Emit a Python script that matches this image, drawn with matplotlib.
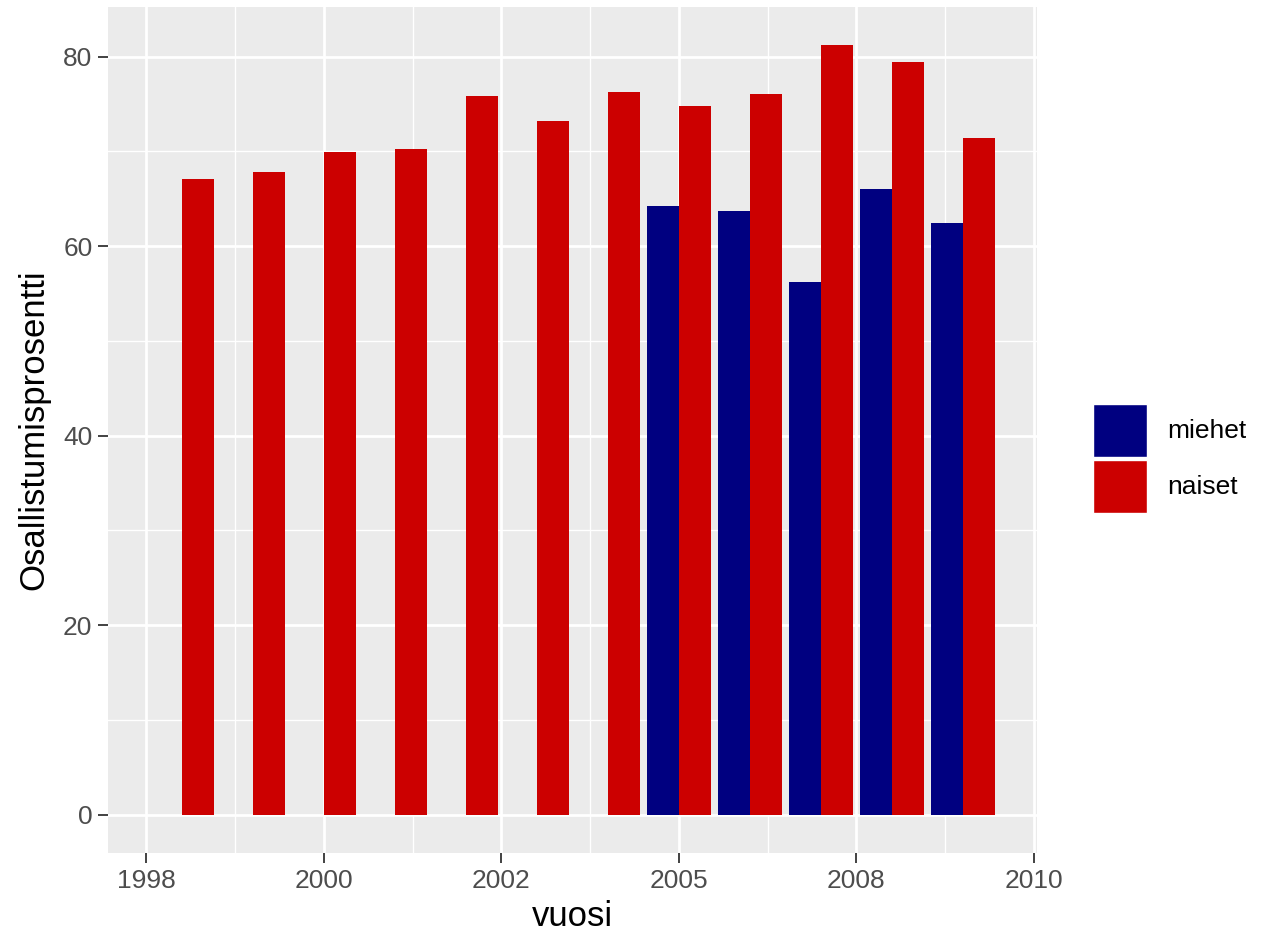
import numpy as np
import matplotlib
matplotlib.use("Agg")
import matplotlib.pyplot as plt
from matplotlib.patches import Patch

# osallistumisprosentit vuosittain (12 vuotta, miehet vain viideltä viimeiseltä)
naiset = [67.1, 67.8, 69.9, 70.2, 75.8, 73.2, 76.3, 74.8, 76.0, 81.2, 79.4, 71.4]
miehet = [None, None, None, None, None, None, None, 64.2, 63.7, 56.2, 66.0, 62.4]
tick_paikat = [-0.5, 2, 4.5, 7, 9.5, 12]
tick_tekstit = ["1998", "2000", "2002", "2005", "2008", "2010"]

sininen = "#000080"
punainen = "#CC0000"
tausta = "#EBEBEB"

plt.rcParams["font.family"] = ["Liberation Sans", "DejaVu Sans"]

fig = plt.figure(figsize=(12.66, 9.43), dpi=100)
ax = fig.add_axes([107.7 / 1266, 1 - 853.3 / 943, (1037 - 107.7) / 1266, (853.3 - 6.7) / 943])
ax.set_facecolor(tausta)

x = np.arange(len(naiset))
w = 0.45
mx = [xi for xi, v in zip(x, miehet) if v is not None]
mv = [v for v in miehet if v is not None]
ax.bar(np.array(mx) - w / 2, mv, width=w, color=sininen, linewidth=0, zorder=3)
ax.bar(x + w / 2, naiset, width=w, color=punainen, linewidth=0, zorder=3)

# ggplot-tyyliset rajat (5 % laajennus)
xmin, xmax = x[0] - 0.45, x[-1] + 0.45
dx = (xmax - xmin) * 0.05
ax.set_xlim(xmin - dx, xmax + dx)
ymax = max(naiset)
ax.set_ylim(-ymax * 0.05, ymax * 1.05)

ax.set_xticks(tick_paikat)
ax.set_xticklabels(tick_tekstit)
ax.set_xticks([(a + b) / 2 for a, b in zip(tick_paikat[:-1], tick_paikat[1:])], minor=True)
ax.set_yticks([0, 20, 40, 60, 80])
ax.set_yticks([10, 30, 50, 70], minor=True)

ax.grid(which="major", color="white", linewidth=1.95, zorder=1)
ax.grid(which="minor", color="white", linewidth=0.95, zorder=1)
ax.set_axisbelow(True)
for s in ax.spines.values():
    s.set_visible(False)

ax.tick_params(which="major", length=7, width=1.3, color="#333333",
               labelsize=19, labelcolor="#4D4D4D", pad=4)
ax.tick_params(which="minor", length=0)

ax.set_xlabel("vuosi", fontsize=25, labelpad=5)
ax.set_ylabel("Osallistumisprosentti", fontsize=25, labelpad=9)

kahvat = [Patch(facecolor=sininen, edgecolor="white", linewidth=1.0, label="miehet"),
          Patch(facecolor=punainen, edgecolor="white", linewidth=1.0, label="naiset")]
fig.legend(handles=kahvat, loc="center left", bbox_to_anchor=(1093 / 1266, 1 - 458.5 / 943),
           frameon=False, fontsize=19, handlelength=2.05, handleheight=2.7,
           handletextpad=0.75, labelspacing=0.12, borderpad=0, borderaxespad=0)

fig.savefig("out.png", dpi=100)
